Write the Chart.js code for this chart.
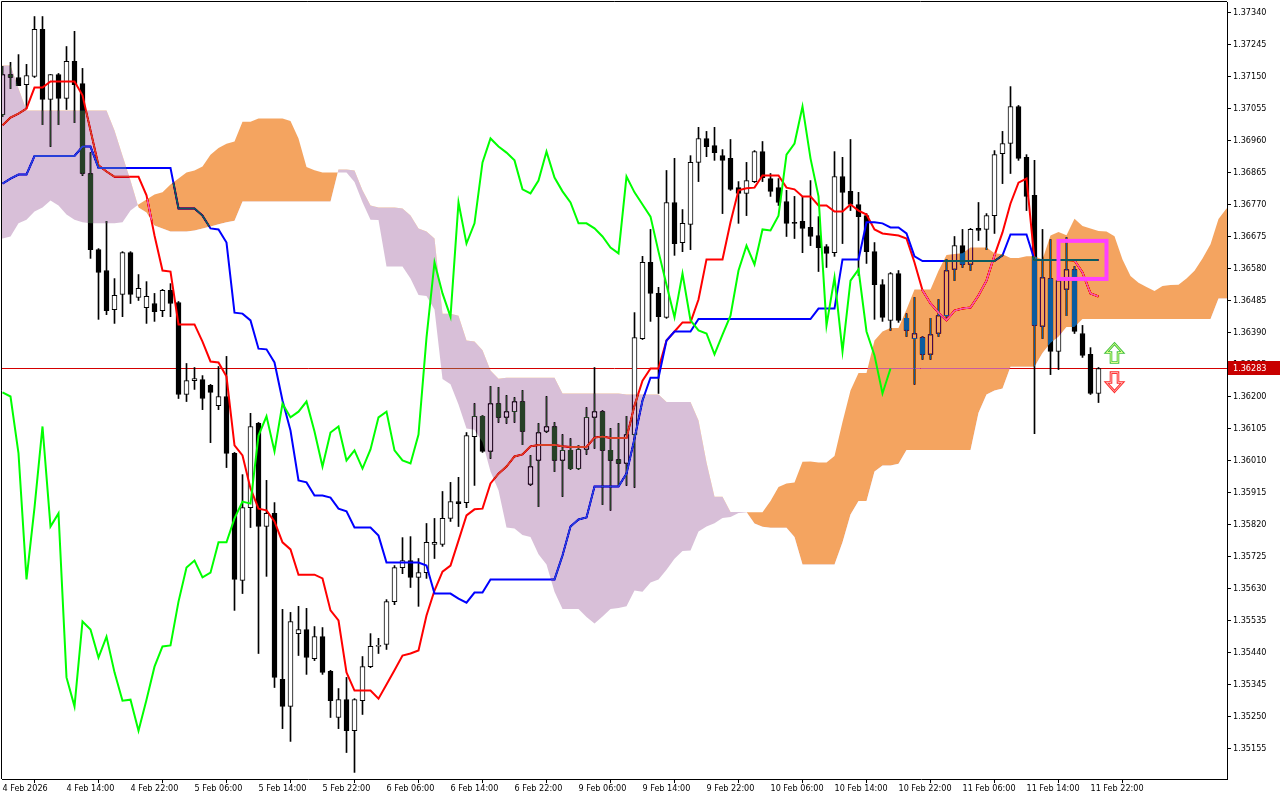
<!DOCTYPE html>
<html><head><meta charset="utf-8">
<script src="https://cdn.jsdelivr.net/npm/chart.js@4.4.1/dist/chart.umd.min.js"></script>
<style>html,body{margin:0;padding:0;background:#fff;overflow:hidden}canvas{display:block}</style>
</head><body>
<canvas id="c" width="1280" height="800"></canvas>
<script>
// H1 candles, 4 Feb 2026 06:00 .. 11 Feb 2026 23:00
const opens = [
1.37037,1.37156,1.37147,1.37126,1.37150,1.37290,1.37082,1.37156,1.37085,1.37195,
1.37129,1.36862,1.36636,1.36574,1.36458,1.36503,1.36627,1.36494,1.36464,1.36476,
1.36455,1.36515,1.36479,1.36206,1.36247,1.36250,1.36233,1.36173,1.36200,1.36031,
1.35654,1.35870,1.36120,1.35814,1.35853,1.35360,1.35280,1.35496,1.35508,1.35422,
1.35487,1.35384,1.35247,1.35300,1.35208,1.35297,1.35398,1.35458,1.35464,1.35591,
1.35692,1.35713,1.35663,1.35677,1.35761,1.35761,1.35838,1.35888,1.35885,1.36081,
1.36141,1.36037,1.36179,1.36138,1.36155,1.36185,1.35939,1.36010,1.36096,1.36111,
1.36010,1.36040,1.35986,1.36043,1.36138,1.36155,1.36040,1.36013,1.36001,1.36087,
1.36372,1.36598,1.36506,1.36435,1.36776,1.36657,1.36711,1.36895,1.36966,1.36945,
1.36915,1.36907,1.36820,1.36803,1.36838,1.36927,1.36847,1.36820,1.36779,1.36717,
1.36720,1.36702,1.36678,1.36645,1.36627,1.36853,1.36809,1.36770,1.36737,1.36630,
1.36532,1.36426,1.36565,1.36432,1.36372,1.36375,1.36325,1.36387,1.36440,1.36577,
1.36648,1.36592,1.36699,1.36696,1.36737,1.36921,1.36951,1.37061,1.36910,1.36797,
1.36408,1.36550,1.36334,1.36518,1.36577,1.36387,1.36325,1.36209];
const highs = [
1.37180,1.37192,1.37215,1.37186,1.37328,1.37328,1.37156,1.37159,1.37239,1.37284,
1.37174,1.36924,1.36639,1.36720,1.36550,1.36630,1.36630,1.36562,1.36541,1.36506,
1.36518,1.36535,1.36482,1.36298,1.36286,1.36262,1.36236,1.36289,1.36319,1.36034,
1.35968,1.36150,1.36123,1.35951,1.35885,1.35568,1.35559,1.35577,1.35571,1.35517,
1.35514,1.35387,1.35333,1.35366,1.35303,1.35428,1.35496,1.35482,1.35597,1.35698,
1.35781,1.35784,1.35719,1.35823,1.35838,1.35918,1.35945,1.35960,1.36093,1.36179,
1.36144,1.36230,1.36227,1.36203,1.36197,1.36218,1.36025,1.36120,1.36200,1.36123,
1.36087,1.36075,1.36055,1.36167,1.36286,1.36158,1.36105,1.36120,1.36141,1.36449,
1.36616,1.36696,1.36524,1.36871,1.36907,1.36755,1.36915,1.36999,1.36987,1.36999,
1.36933,1.36963,1.36838,1.36895,1.36930,1.36957,1.36862,1.36847,1.36812,1.36794,
1.36794,1.36841,1.36734,1.36651,1.36927,1.36910,1.36963,1.36806,1.36743,1.36657,
1.36547,1.36568,1.36574,1.36446,1.36494,1.36378,1.36432,1.36488,1.36607,1.36675,
1.36696,1.36699,1.36776,1.36743,1.36930,1.36987,1.37120,1.37064,1.36918,1.36901,
1.36696,1.36666,1.36666,1.36672,1.36586,1.36411,1.36345,1.36286];
const lows = [
1.37031,1.37114,1.37123,1.37055,1.37147,1.37007,1.36942,1.37007,1.37052,1.37013,
1.36856,1.36610,1.36429,1.36443,1.36417,1.36437,1.36476,1.36485,1.36417,1.36423,
1.36437,1.36437,1.36194,1.36185,1.36221,1.36161,1.36063,1.36161,1.35989,1.35565,
1.35615,1.35811,1.35437,1.35666,1.35336,1.35214,1.35176,1.35431,1.35375,1.35416,
1.35375,1.35247,1.35214,1.35143,1.35084,1.35256,1.35395,1.35437,1.35449,1.35582,
1.35674,1.35633,1.35577,1.35660,1.35719,1.35755,1.35829,1.35814,1.35870,1.35936,
1.36034,1.36016,1.36123,1.36120,1.36123,1.36057,1.35936,1.35873,1.36093,1.35977,
1.35903,1.35983,1.35983,1.36028,1.36046,1.35879,1.35862,1.35936,1.35936,1.35930,
1.36369,1.36423,1.36209,1.36432,1.36619,1.36630,1.36636,1.36838,1.36912,1.36901,
1.36743,1.36812,1.36714,1.36737,1.36835,1.36838,1.36794,1.36767,1.36675,1.36669,
1.36627,1.36648,1.36571,1.36583,1.36616,1.36654,1.36752,1.36559,1.36595,1.36429,
1.36423,1.36396,1.36420,1.36378,1.36236,1.36310,1.36310,1.36378,1.36435,1.36544,
1.36583,1.36574,1.36663,1.36636,1.36684,1.36832,1.36862,1.36901,1.36752,1.36090,
1.36372,1.36265,1.36280,1.36440,1.36387,1.36316,1.36206,1.36182];
const closes = [
1.37156,1.37147,1.37123,1.37153,1.37290,1.37082,1.37156,1.37085,1.37195,1.37126,
1.36862,1.36636,1.36568,1.36455,1.36500,1.36627,1.36503,1.36521,1.36497,1.36452,
1.36515,1.36476,1.36206,1.36247,1.36253,1.36194,1.36212,1.36200,1.36031,1.35657,
1.35870,1.36111,1.35814,1.35853,1.35366,1.35280,1.35532,1.35508,1.35425,1.35487,
1.35381,1.35297,1.35300,1.35208,1.35300,1.35398,1.35458,1.35461,1.35591,1.35692,
1.35713,1.35663,1.35677,1.35767,1.35767,1.35838,1.35888,1.35882,1.36084,1.36141,
1.36037,1.36179,1.36138,1.36155,1.36185,1.36096,1.35992,1.36093,1.36111,1.36010,
1.36040,1.35986,1.36043,1.36138,1.36155,1.36040,1.36010,1.36001,1.36087,1.36375,
1.36598,1.36506,1.36437,1.36776,1.36654,1.36714,1.36895,1.36966,1.36942,1.36924,
1.36901,1.36815,1.36803,1.36841,1.36927,1.36850,1.36809,1.36776,1.36714,1.36714,
1.36699,1.36675,1.36642,1.36625,1.36853,1.36806,1.36770,1.36734,1.36630,1.36532,
1.36435,1.36565,1.36426,1.36396,1.36387,1.36325,1.36384,1.36440,1.36574,1.36648,
1.36592,1.36696,1.36693,1.36737,1.36918,1.36951,1.37061,1.36907,1.36794,1.36411,
1.36553,1.36334,1.36544,1.36577,1.36393,1.36322,1.36209,1.36283];

// Ichimoku lines (one value per bar)
const tenkanSen = [
1.37005,1.37028,1.37040,1.37055,1.37117,1.37117,1.37135,1.37135,1.37135,1.37135,
1.37094,1.36990,1.36886,1.36868,1.36852,1.36852,1.36852,1.36852,1.36797,1.36678,
1.36574,1.36571,1.36414,1.36414,1.36414,1.36363,1.36304,1.36301,1.36259,1.36055,
1.36025,1.35927,1.35867,1.35862,1.35829,1.35767,1.35746,1.35671,1.35671,1.35671,
1.35660,1.35565,1.35535,1.35381,1.35327,1.35327,1.35327,1.35303,1.35345,1.35387,
1.35431,1.35437,1.35446,1.35550,1.35624,1.35680,1.35698,1.35772,1.35847,1.35865,
1.35867,1.35942,1.35971,1.35992,1.36022,1.36028,1.36052,1.36056,1.36056,1.36056,
1.36052,1.36050,1.36050,1.36050,1.36078,1.36081,1.36077,1.36077,1.36077,1.36173,
1.36247,1.36283,1.36283,1.36366,1.36393,1.36420,1.36420,1.36488,1.36607,1.36607,
1.36607,1.36717,1.36812,1.36818,1.36820,1.36856,1.36856,1.36856,1.36820,1.36815,
1.36794,1.36794,1.36767,1.36767,1.36749,1.36749,1.36770,1.36752,1.36740,1.36696,
1.36684,1.36681,1.36678,1.36669,1.36598,1.36515,1.36476,1.36449,1.36426,1.36455,
1.36461,1.36464,1.36500,1.36544,1.36619,1.36687,1.36773,1.36835,1.36847,1.36605,
1.36605,1.36605,1.36605,1.36605,1.36604,1.36568,1.36506,1.36497];
const kijunSen = [
1.36832,1.36847,1.36859,1.36859,1.36914,1.36914,1.36914,1.36914,1.36914,1.36914,
1.36942,1.36942,1.36878,1.36878,1.36878,1.36878,1.36878,1.36878,1.36878,1.36878,
1.36878,1.36878,1.36758,1.36758,1.36758,1.36737,1.36699,1.36696,1.36657,1.36449,
1.36446,1.36426,1.36342,1.36340,1.36301,1.36188,1.36099,1.35951,1.35945,1.35906,
1.35906,1.35900,1.35867,1.35859,1.35811,1.35811,1.35811,1.35787,1.35707,1.35707,
1.35707,1.35707,1.35707,1.35698,1.35615,1.35615,1.35615,1.35600,1.35588,1.35618,
1.35618,1.35657,1.35657,1.35657,1.35657,1.35657,1.35657,1.35657,1.35657,1.35657,
1.35728,1.35814,1.35835,1.35841,1.35933,1.35933,1.35933,1.35933,1.35971,1.36075,
1.36188,1.36256,1.36256,1.36366,1.36393,1.36393,1.36393,1.36430,1.36430,1.36430,
1.36430,1.36430,1.36430,1.36430,1.36430,1.36430,1.36430,1.36430,1.36430,1.36430,
1.36430,1.36430,1.36461,1.36461,1.36461,1.36607,1.36607,1.36607,1.36717,1.36717,
1.36714,1.36702,1.36702,1.36684,1.36616,1.36602,1.36602,1.36602,1.36602,1.36602,
1.36602,1.36602,1.36602,1.36602,1.36602,1.36619,1.36681,1.36681,1.36681,1.36605,
1.36605,1.36605,1.36605,1.36605,1.36605,1.36605,1.36605,1.36605];
// Senkou spans, plotted 26 bars ahead (154 positions)
const senkouSpanA = [
1.36669,1.36675,1.36714,1.36725,1.36749,1.36761,1.36782,1.36767,1.36740,1.36725,
1.36717,1.36714,1.36714,1.36714,1.36714,1.36717,1.36752,1.36770,1.36785,1.36800,
1.36806,1.36829,1.36847,1.36865,1.36871,1.36883,1.36918,1.36938,1.36950,1.36957,
1.37016,1.37016,1.37025,1.37025,1.37025,1.37025,1.37018,1.36966,1.36881,1.36872,
1.36865,1.36865,1.36865,1.36865,1.36837,1.36777,1.36725,1.36724,1.36586,1.36586,
1.36586,1.36550,1.36501,1.36498,1.36458,1.36252,1.36236,1.36176,1.36105,1.36101,
1.36065,1.35977,1.35922,1.35811,1.35808,1.35789,1.35783,1.35732,1.35701,1.35620,
1.35569,1.35569,1.35569,1.35545,1.35526,1.35547,1.35569,1.35572,1.35577,1.35624,
1.35620,1.35648,1.35657,1.35686,1.35718,1.35741,1.35743,1.35799,1.35814,1.35824,
1.35839,1.35842,1.35854,1.35856,1.35856,1.35856,1.35890,1.35931,1.35942,1.35945,
1.36006,1.36007,1.36004,1.36004,1.36023,1.36124,1.36218,1.36270,1.36270,1.36366,
1.36393,1.36403,1.36403,1.36458,1.36518,1.36518,1.36518,1.36573,1.36620,1.36623,
1.36625,1.36642,1.36642,1.36642,1.36625,1.36622,1.36611,1.36611,1.36616,1.36616,
1.36607,1.36678,1.36688,1.36679,1.36728,1.36706,1.36699,1.36691,1.36690,1.36676,
1.36607,1.36558,1.36538,1.36525,1.36513,1.36528,1.36531,1.36532,1.36550,1.36573,
1.36610,1.36652,1.36727,1.36758];
const senkouSpanB = [
1.37183,1.37183,1.37114,1.37049,1.37049,1.37049,1.37049,1.37049,1.37049,1.37049,
1.37049,1.37049,1.37049,1.37049,1.36990,1.36915,1.36841,1.36761,1.36746,1.36708,
1.36699,1.36690,1.36690,1.36690,1.36693,1.36699,1.36705,1.36711,1.36717,1.36722,
1.36779,1.36779,1.36779,1.36779,1.36779,1.36779,1.36779,1.36779,1.36779,1.36779,
1.36779,1.36779,1.36874,1.36874,1.36871,1.36812,1.36767,1.36761,1.36761,1.36761,
1.36758,1.36737,1.36699,1.36690,1.36669,1.36446,1.36446,1.36440,1.36366,1.36363,
1.36337,1.36277,1.36253,1.36256,1.36256,1.36256,1.36256,1.36256,1.36256,1.36256,
1.36209,1.36209,1.36209,1.36209,1.36209,1.36209,1.36209,1.36209,1.36206,1.36206,
1.36206,1.36206,1.36206,1.36184,1.36184,1.36184,1.36184,1.36129,1.36004,1.35902,
1.35902,1.35857,1.35857,1.35857,1.35823,1.35813,1.35810,1.35810,1.35810,1.35783,
1.35701,1.35701,1.35701,1.35701,1.35701,1.35767,1.35850,1.35890,1.35890,1.35977,
1.35995,1.35995,1.36000,1.36041,1.36041,1.36041,1.36041,1.36041,1.36041,1.36041,
1.36041,1.36041,1.36152,1.36206,1.36218,1.36224,1.36288,1.36288,1.36288,1.36288,
1.36329,1.36359,1.36377,1.36406,1.36406,1.36430,1.36430,1.36430,1.36430,1.36430,
1.36430,1.36430,1.36430,1.36430,1.36430,1.36430,1.36430,1.36430,1.36430,1.36430,
1.36430,1.36430,1.36491,1.36491];
// Chikou span = close plotted 26 bars back
const chikouSpan = closes.slice(26);

const priceTicks = [1.37340,1.37245,1.37150,1.37055,1.36960,1.36865,1.36770,1.36675,1.36580,1.36485,
  1.36390,1.36295,1.36200,1.36105,1.36010,1.35915,1.35820,1.35725,1.35630,1.35535,1.35440,1.35345,1.35250,1.35155];
const timeTickBars = [0,8,16,24,32,40,48,56,64,72,80,88,96,104,112,120,128,136];
const timeTickLabels = ["4 Feb 2026","4 Feb 14:00","4 Feb 22:00","5 Feb 06:00","5 Feb 14:00","5 Feb 22:00",
  "6 Feb 06:00","6 Feb 14:00","6 Feb 22:00","9 Feb 06:00","9 Feb 14:00","9 Feb 22:00","10 Feb 06:00",
  "10 Feb 14:00","10 Feb 22:00","11 Feb 06:00","11 Feb 14:00","11 Feb 22:00"];
// chart objects (bar index / price)
const zoneBox = {fromBar:132, toBar:138, top:1.36662, bottom:1.36549};
const signalArrows = [
  {bar:139, top:1.36357, bottom:1.36301, dir:'up'},
  {bar:139, top:1.36271, bottom:1.36215, dir:'down'}];

const FONT = '"DejaVu Sans Condensed", "DejaVu Sans", sans-serif';
const BID_RED = '#d40000';

function drawCloud(chart){
  const {ctx, chartArea:a} = chart;
  const pa = chart.getDatasetMeta(4).data.map(p=>({x:p.x,y:p.y}));
  const pb = chart.getDatasetMeta(5).data.map(p=>({x:p.x,y:p.y}));
  ctx.save();
  ctx.beginPath(); ctx.rect(a.left, a.top, a.right-a.left, a.bottom-a.top); ctx.clip();
  ctx.globalCompositeOperation = 'difference';
  // inverse of sandybrown (bullish) and thistle (bearish): drawn as "difference" like MT's XOR fill
  [['#0b5b9f', true], ['#274027', false]].forEach(([col, above])=>{
    ctx.save();
    ctx.beginPath();
    ctx.moveTo(pb[0].x-1, pb[0].y);
    pb.forEach(p=>ctx.lineTo(p.x,p.y));
    const edge = above ? a.top-20 : a.bottom+20;
    ctx.lineTo(pb[pb.length-1].x+1, pb[pb.length-1].y);
    ctx.lineTo(pb[pb.length-1].x+1, edge); ctx.lineTo(pb[0].x-1, edge); ctx.closePath();
    ctx.clip();
    ctx.beginPath();
    ctx.moveTo(pa[0].x-1, pa[0].y);
    pa.forEach(p=>ctx.lineTo(p.x,p.y));
    ctx.lineTo(pa[pa.length-1].x+1, pa[pa.length-1].y);
    ctx.lineTo(pb[pb.length-1].x+1, pb[pb.length-1].y);
    for(let i=pb.length-1;i>=0;i--) ctx.lineTo(pb[i].x,pb[i].y);
    ctx.lineTo(pb[0].x-1, pb[0].y);
    ctx.closePath();
    ctx.fillStyle = col; ctx.fill();
    ctx.restore();
  });
  ctx.restore();
}

function arrowPath(ctx, cx, top, bottom, dir){
  const h = bottom-top, hw = 8, sw = 3.5, head = h*0.47;
  ctx.beginPath();
  if(dir==='up'){
    ctx.moveTo(cx, top); ctx.lineTo(cx+hw, top+head); ctx.lineTo(cx+sw, top+head);
    ctx.lineTo(cx+sw, bottom); ctx.lineTo(cx-sw, bottom); ctx.lineTo(cx-sw, top+head);
    ctx.lineTo(cx-hw, top+head);
  } else {
    ctx.moveTo(cx, bottom); ctx.lineTo(cx+hw, bottom-head); ctx.lineTo(cx+sw, bottom-head);
    ctx.lineTo(cx+sw, top); ctx.lineTo(cx-sw, top); ctx.lineTo(cx-sw, bottom-head);
    ctx.lineTo(cx-hw, bottom-head);
  }
  ctx.closePath();
}

const mtLook = {
  id:'mtLook',
  beforeDraw(chart){
    const c = chart.ctx; c.save(); c.fillStyle='#fff'; c.fillRect(0,0,chart.width,chart.height); c.restore();
  },
  beforeDatasetsDraw(chart){
    const {ctx, chartArea:a, scales:{y}} = chart;
    const py = Math.round(y.getPixelForValue(closes[closes.length-1]) - 0.5) + 0.5;
    ctx.save(); ctx.strokeStyle = BID_RED; ctx.lineWidth = 1;
    ctx.beginPath(); ctx.moveTo(a.left, py); ctx.lineTo(a.right, py); ctx.stroke(); ctx.restore();
  },
  afterDatasetDraw(chart, args){
    if(args.index === 5) drawCloud(chart);
  },
  afterDatasetsDraw(chart){
    const {ctx, chartArea:a, scales:{x, y}} = chart;
    ctx.save();
    ctx.beginPath(); ctx.rect(a.left, a.top, a.right-a.left, a.bottom-a.top); ctx.clip();
    // rectangle object
    const x1 = x.getPixelForValue(zoneBox.fromBar), x2 = x.getPixelForValue(zoneBox.toBar);
    const y1 = y.getPixelForValue(zoneBox.top), y2 = y.getPixelForValue(zoneBox.bottom);
    ctx.strokeStyle = '#ff40ff'; ctx.lineWidth = 4;
    ctx.strokeRect(x1, y1, x2-x1, y2-y1);
    // arrows
    signalArrows.forEach(s=>{
      const cx = x.getPixelForValue(s.bar);
      const t = y.getPixelForValue(s.top), b = y.getPixelForValue(s.bottom);
      arrowPath(ctx, cx, t, b, s.dir);
      ctx.fillStyle = '#fff'; ctx.fill();
      ctx.lineJoin = 'miter';
      ctx.lineWidth = 2.6; ctx.strokeStyle = s.dir==='up' ? '#3cc03c' : '#ff2a2a'; ctx.stroke();
      ctx.lineWidth = 1; ctx.strokeStyle = s.dir==='up' ? '#e6ff8c' : '#ffb0b0'; ctx.stroke();
    });
    ctx.restore();
  },
  afterDraw(chart){
    const {ctx, chartArea:a, scales:{y}} = chart;
    ctx.save();
    ctx.strokeStyle = '#000'; ctx.lineWidth = 1;
    ctx.beginPath();
    ctx.moveTo(1.5, a.bottom); ctx.lineTo(1.5, 1.5); ctx.lineTo(a.right, 1.5);
    ctx.stroke();
    // current price label
    const last = closes[closes.length-1];
    const py = Math.round(y.getPixelForValue(last) - 0.5) + 0.5;
    ctx.fillStyle = '#c80000';
    ctx.fillRect(a.right+1, Math.round(py-7.5), chart.width - a.right - 1, 14);
    ctx.fillStyle = '#fff';
    ctx.font = '9px ' + FONT;
    ctx.textBaseline = 'middle'; ctx.textAlign = 'left';
    ctx.fillText(last.toFixed(5), a.right+6, py+0.5);
    ctx.restore();
  }
};

new Chart(document.getElementById('c'), {
  type: 'bar',
  data: { datasets: [
    {type:'bar', label:'Wicks', data: lows.map((l,i)=>({x:i, y:[l, highs[i]]})),
      backgroundColor:'#000', barThickness:1, grouped:false, order:6},
    {type:'bar', label:'Bodies', data: opens.map((o,i)=>({x:i, y:[o, closes[i]]})),
      backgroundColor: c => (c.raw && c.raw.y[1] >= c.raw.y[0]) ? '#ffffff' : '#000000',
      borderColor:'#000', borderWidth:1, borderSkipped:false, barThickness:5, grouped:false, minBarLength:1, order:5},
    {type:'line', label:'Tenkan-sen', data: tenkanSen.map((v,i)=>({x:i,y:v})),
      borderColor:'#ff0000', borderWidth:2, pointRadius:0, tension:0, order:4},
    {type:'line', label:'Kijun-sen', data: kijunSen.map((v,i)=>({x:i,y:v})),
      borderColor:'#0000ff', borderWidth:2, pointRadius:0, tension:0, order:3},
    {type:'line', label:'Senkou Span A', data: senkouSpanA.map((v,i)=>({x:i,y:v})),
      showLine:false, pointRadius:0, order:2.1},
    {type:'line', label:'Senkou Span B', data: senkouSpanB.map((v,i)=>({x:i,y:v})),
      showLine:false, pointRadius:0, order:2},
    {type:'line', label:'Chikou Span', data: chikouSpan.map((v,i)=>({x:i,y:v})),
      borderColor:'#00ff00', borderWidth:2, pointRadius:0, tension:0, order:1}
  ]},
  options: {
    responsive:false, animation:false, devicePixelRatio:1, events:[],
    layout:{padding:{left:2, top:2, right:0, bottom:0}},
    plugins:{legend:{display:false}, tooltip:{enabled:false}},
    scales:{
      x:{type:'linear', position:'bottom', min:-0.0625, max:153.0625, offset:false, bounds:'data',
        grid:{display:true, drawOnChartArea:false, drawTicks:true, tickLength:4, color:'#000'},
        border:{display:true, color:'#000'},
        ticks:{autoSkip:false, maxRotation:0, minRotation:0, align:'start', padding:0, color:'#000',
          font:{family:FONT, size:9}, callback:(v,i)=>timeTickLabels[i]},
        afterBuildTicks: s => { s.ticks = timeTickBars.map(v=>({value:v})); },
        afterFit: s => { s.height = 21; s.paddingLeft = 0; s.paddingRight = 0; }
      },
      y:{type:'linear', position:'right', min:1.3506443, max:1.3737115, bounds:'data',
        grid:{display:true, drawOnChartArea:false, drawTicks:true, tickLength:4, color:'#000'},
        border:{display:true, color:'#000'},
        ticks:{autoSkip:false, padding:2, color:'#000', font:{family:FONT, size:9}, callback:v=>Number(v).toFixed(5)},
        afterBuildTicks: s => { s.ticks = priceTicks.map(v=>({value:v})); },
        afterFit: s => { s.width = 53; s.paddingTop = 0; s.paddingBottom = 0; }
      }
    }
  },
  plugins:[mtLook]
});
</script>
</body></html>
